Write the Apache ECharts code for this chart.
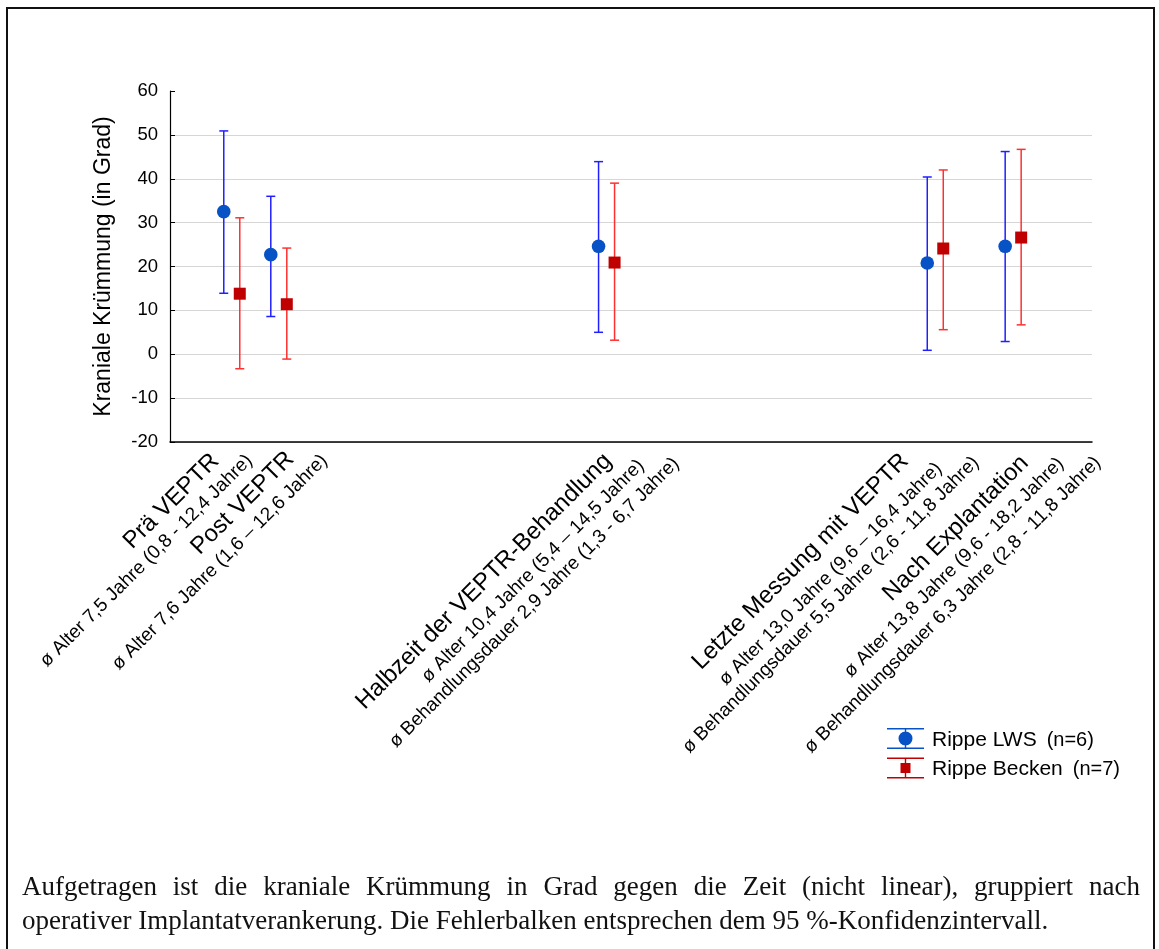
<!DOCTYPE html>
<html>
<head>
<meta charset="utf-8">
<script src="https://cdn.jsdelivr.net/npm/echarts@6/dist/echarts.min.js"></script>
<style>
  html, body { margin: 0; padding: 0; background: #fff; }
  #frame { position: absolute; left: 6px; top: 7px; width: 1145px; height: 1000px; border: 2px solid #111; border-bottom: none; }
  #chart { position: absolute; left: 0; top: 0; width: 1159px; height: 949px; }
  .cap { position: absolute; left: 22px; width: 1118px; font-family: "Liberation Serif", "DejaVu Serif", serif; font-size: 27px; line-height: 30px; color: #111; white-space: nowrap; }
  #cap1 { top: 871px; text-align: justify; text-align-last: justify; }
  #cap2 { top: 905px; }
</style>
</head>
<body>
<div id="frame"></div>
<div id="chart"></div>
<div class="cap" id="cap1">Aufgetragen ist die kraniale Krümmung in Grad gegen die Zeit (nicht linear), gruppiert nach</div>
<div class="cap" id="cap2">operativer Implantatverankerung. Die Fehlerbalken entsprechen dem 95 %-Konfidenzintervall.</div>
<script>
// Zeitpunkte (nicht linear), Positionen auf der Zeitachse
const timePos = [1.34, 2.36, 9.47, 16.6, 18.29];
const phases = ['Prä VEPTR', 'Post VEPTR', 'Halbzeit der VEPTR-Behandlung', 'Letzte Messung mit VEPTR', 'Nach Explantation'];
const ageLines = [
  'ø Alter 7,5 Jahre (0,8 - 12,4 Jahre)',
  'ø Alter 7,6 Jahre (1,6 – 12,6 Jahre)',
  'ø Alter 10,4 Jahre (5,4 – 14,5 Jahre)',
  'ø Alter 13,0 Jahre (9,6 – 16,4 Jahre)',
  'ø Alter 13,8 Jahre (9,6 - 18,2 Jahre)'
];
const durationLines = [
  null,
  null,
  'ø Behandlungsdauer 2,9 Jahre (1,3 - 6,7 Jahre)',
  'ø Behandlungsdauer 5,5 Jahre (2,6 - 11,8 Jahre)',
  'ø Behandlungsdauer 6,3 Jahre (2,8 - 11,8 Jahre)'
];

// Rippe LWS (n=6)
const lwsMean = [32.5, 22.7, 24.6, 20.8, 24.6];
const lwsLow = [13.9, 8.6, 5.0, 0.9, 2.9];
const lwsHigh = [50.9, 36.0, 43.9, 40.4, 46.2];
// Rippe Becken (n=7)
const beckenMean = [13.8, 11.4, 20.9, 24.1, 26.6];
const beckenLow = [-3.3, -1.1, 3.2, 5.6, 6.7];
const beckenHigh = [31.1, 24.2, 39.0, 42.0, 46.7];

const yMin = -20, yMax = 60, yStep = 10;

// layout of the rotated axis texts: top-right anchor of each line, px offset from the category on the axis
const labelOffsets = [
  [[-25, 7], [11, 9]],
  [[3, 5], [39, 9]],
  [[-7, 7], [28, 14], [63, 12]],
  [[-39, 7], [-3, 17], [34, 11]],
  [[3, 9], [41, 12], [78, 11]]
];

const FONT = '"Liberation Sans", Arial, sans-serif';

function errorSeries(name, mean, low, high, lineColor, markColor, shape, shiftPx) {
  return {
    name: name,
    type: 'custom',
    itemStyle: { color: markColor },
    data: timePos.map((x, i) => [x, low[i], high[i], mean[i]]),
    encode: { x: 0, y: [1, 2, 3] },
    renderItem: function (params, api) {
      const x = api.value(0);
      const pLo = api.coord([x, api.value(1)]);
      const pHi = api.coord([x, api.value(2)]);
      const pM = api.coord([x, api.value(3)]);
      const cx = pM[0] + shiftPx;
      const capW = 4.5;
      const ls = { stroke: lineColor, lineWidth: 1.5 };
      const marker = shape === 'circle'
        ? { type: 'circle', shape: { cx: cx, cy: pM[1], r: 6.8 }, style: { fill: markColor } }
        : { type: 'rect', shape: { x: cx - 6, y: pM[1] - 6, width: 12, height: 12 }, style: { fill: markColor } };
      return {
        type: 'group',
        children: [
          { type: 'line', shape: { x1: cx, y1: pHi[1], x2: cx, y2: pLo[1] }, style: ls },
          { type: 'line', shape: { x1: cx - capW, y1: pHi[1], x2: cx + capW, y2: pHi[1] }, style: ls },
          { type: 'line', shape: { x1: cx - capW, y1: pLo[1], x2: cx + capW, y2: pLo[1] }, style: ls },
          marker
        ]
      };
    }
  };
}

const labelSeries = {
  type: 'custom',
  name: 'labels',
  silent: true,
  data: timePos.map((x, i) => [x, yMin, i]),
  encode: { x: 0, y: 1 },
  renderItem: function (params, api) {
    const i = api.value(2);
    const p = api.coord([api.value(0), yMin]);
    const lines = [phases[i], ageLines[i], durationLines[i]].filter(Boolean);
    const children = lines.map((t, k) => ({
      type: 'text',
      x: p[0] + labelOffsets[i][k][0],
      y: p[1] + labelOffsets[i][k][1],
      rotation: Math.PI / 4,
      style: {
        text: t,
        align: 'right',
        verticalAlign: 'top',
        fill: '#000',
        font: (k === 0 ? '24px ' : '19px ') + FONT
      }
    }));
    return { type: 'group', children: children };
  }
};

// legend symbols: whiskers + marker, pieces kept apart so the fill does not cancel out
const lwsIcon = 'path://M0,0H37V1.5H0Z M0,19.5H37V21H0Z M17.8,0H19.2V4H17.8Z M17.8,17H19.2V21H17.8Z M11.5,10.5A7,7 0 1,1 25.5,10.5A7,7 0 1,1 11.5,10.5Z';
const beckenIcon = 'path://M0,0H37V1.5H0Z M0,19.5H37V21H0Z M17.8,0H19.2V5.5H17.8Z M17.8,15.5H19.2V21H17.8Z M13.5,5.5H23.5V15.5H13.5Z';

const chart = echarts.init(document.getElementById('chart'));
chart.setOption({
  animation: false,
  backgroundColor: 'transparent',
  grid: { left: 170, right: 67, top: 91, bottom: 507 },
  legend: {
    left: 887,
    top: 728,
    padding: 0,
    orient: 'vertical',
    itemWidth: 37,
    itemHeight: 21,
    itemGap: 7,
    selectedMode: false,
    data: [
      { name: 'Rippe LWS', icon: lwsIcon },
      { name: 'Rippe Becken', icon: beckenIcon }
    ],
    formatter: function (name) {
      return name === 'Rippe LWS' ? '{a|Rippe LWS}{b|(n=6)}' : '{a|Rippe Becken}{b|(n=7)}';
    },
    textStyle: {
      padding: [3, 0, 0, 3],
      rich: {
        a: { fontFamily: FONT, fontSize: 21, color: '#000' },
        b: { fontFamily: FONT, fontSize: 20, color: '#000', padding: [0, 0, 0, 10] }
      }
    }
  },
  xAxis: {
    type: 'value',
    min: 0,
    max: 20,
    axisLine: { show: true, onZero: false, lineStyle: { color: '#000', width: 1.5 } },
    axisTick: { show: false },
    axisLabel: { show: false },
    splitLine: { show: false }
  },
  yAxis: {
    type: 'value',
    min: yMin,
    max: yMax,
    interval: yStep,
    name: 'Kraniale Krümmung (in Grad)',
    nameLocation: 'middle',
    nameGap: 55,
    nameTextStyle: { fontFamily: FONT, fontSize: 23, color: '#000' },
    axisLine: { show: true, lineStyle: { color: '#000', width: 1.2 } },
    axisTick: { show: true, inside: true, length: 5, lineStyle: { color: '#000' } },
    axisLabel: { fontFamily: FONT, fontSize: 18.5, color: '#000', margin: 12 },
    splitLine: { show: true, showMaxLine: false, lineStyle: { color: '#d6d6d6', width: 1.2 } }
  },
  series: [
    errorSeries('Rippe LWS', lwsMean, lwsLow, lwsHigh, '#1f1fff', '#0752c4', 'circle', -8),
    errorSeries('Rippe Becken', beckenMean, beckenLow, beckenHigh, '#ff3030', '#c00000', 'square', 8),
    labelSeries
  ]
});
</script>
</body>
</html>
